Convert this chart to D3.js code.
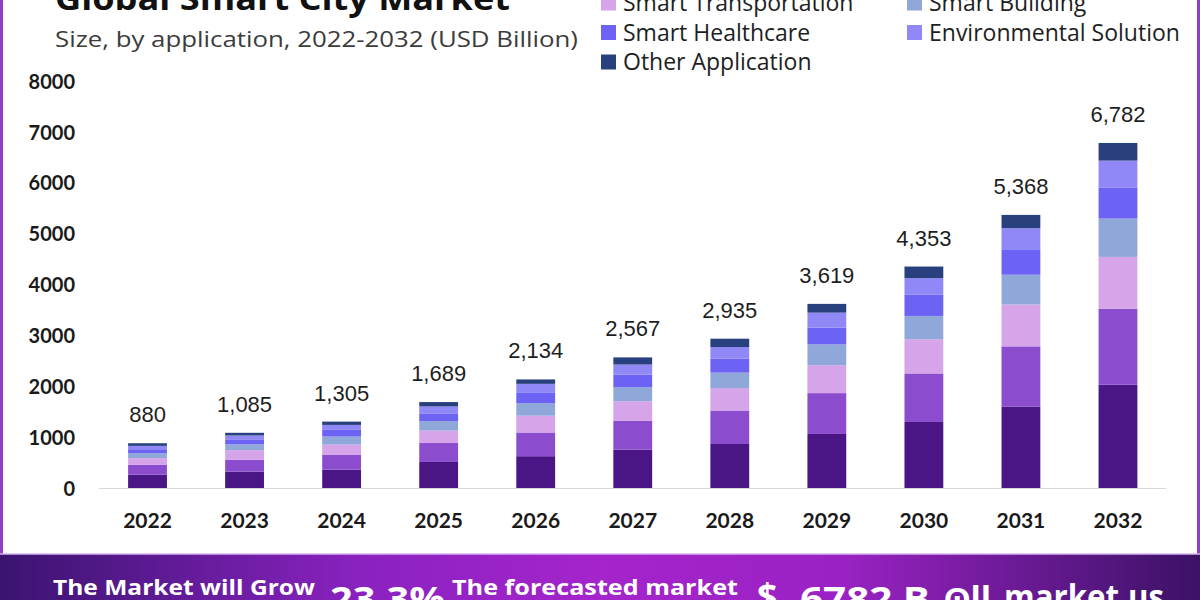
<!DOCTYPE html>
<html>
<head>
<meta charset="utf-8">
<script src="https://cdn.jsdelivr.net/npm/d3@7"></script>
<style>
  html, body { margin: 0; padding: 0; background: #ffffff; }
  svg { display: block; }
</style>
</head>
<body>
<svg id="chart" width="1200" height="600"></svg>
<script>
// ---------------- DATA ----------------
const years = ["2022","2023","2024","2025","2026","2027","2028","2029","2030","2031","2032"];
const totals = [880, 1085, 1305, 1689, 2134, 2567, 2935, 3619, 4353, 5368, 6782];
const seriesNames = ["Smart Governance","Smart Energy","Smart Transportation","Smart Building","Smart Healthcare","Environmental Solution","Other Application"];
const smartGovernance      = [262, 322, 362, 512, 625, 752, 865, 1062, 1298, 1602, 2030];
const smartEnergy          = [197, 235, 295, 372, 466, 573, 658, 803, 954, 1182, 1495];
const smartTransportation  = [128, 187, 197, 245, 330, 381, 440, 548, 670, 822, 1017];
const smartBuilding        = [95, 115, 157, 186, 248, 277, 305, 410, 460, 586, 754];
const smartHealthcare      = [80, 97, 131, 152, 200, 246, 276, 328, 415, 486, 604];
const environmentalSolution= [66, 76, 98, 136, 178, 198, 226, 296, 327, 428, 535];
const otherApplication     = [52, 53, 65, 86, 87, 140, 165, 172, 229, 262, 347];
const seriesColors = ["#4a1585","#8b4ccd","#d6a4e8","#8fa8d9","#6c62f4","#9088f6","#28407e"];
const yTicks = [0,1000,2000,3000,4000,5000,6000,7000,8000];

const seriesValues = [smartGovernance, smartEnergy, smartTransportation, smartBuilding, smartHealthcare, environmentalSolution, otherApplication];

// table for stacking
const table = years.map((y, i) => {
  const row = { year: y };
  seriesNames.forEach((n, k) => row[n] = seriesValues[k][i]);
  return row;
});

// ---------------- LAYOUT ----------------
const svg = d3.select("#chart");
const W = 1200, H = 600;
const x0 = 99, x1 = 1166.5, yTop = 81, yBase = 488;

const defs = svg.append("defs");
const grad = defs.append("linearGradient").attr("id","bannerGrad").attr("x1","0%").attr("x2","100%");
grad.append("stop").attr("offset","0%").attr("stop-color","#3a1470");
grad.append("stop").attr("offset","30%").attr("stop-color","#8a22c0");
grad.append("stop").attr("offset","50%").attr("stop-color","#a524cb");
grad.append("stop").attr("offset","70%").attr("stop-color","#9a22c4");
grad.append("stop").attr("offset","100%").attr("stop-color","#3b1266");

// white panel with purple frame
svg.append("rect").attr("x",0).attr("y",0).attr("width",W).attr("height",H).attr("fill","#ffffff");
svg.append("rect").attr("x",1.5).attr("y",-20).attr("width",W-3).attr("height",573+20)
  .attr("rx",6).attr("fill","#ffffff").attr("stroke","#8e3fc6").attr("stroke-width",3);

// banner
svg.append("rect").attr("x",0).attr("y",554).attr("width",W).attr("height",46).attr("fill","url(#bannerGrad)");
svg.append("line").attr("x1",0).attr("x2",W).attr("y1",554).attr("y2",554).attr("stroke","#d7b3ec").attr("stroke-width",1.5);

// scales
const x = d3.scaleBand().domain(years).range([x0, x1]).paddingInner(0.6).paddingOuter(0.3);
const y = d3.scaleLinear().domain([0, 8000]).range([yBase, yTop]);

// baseline
svg.append("line").attr("x1",x0).attr("x2",x1).attr("y1",yBase+0.5).attr("y2",yBase+0.5)
  .attr("stroke","#d9d9d9").attr("stroke-width",1.2);

// y axis
const yAxis = d3.axisLeft(y).tickValues(yTicks).tickSize(0).tickPadding(0).tickFormat(d3.format("d"));
const gy = svg.append("g").attr("transform","translate(75,0)").call(yAxis);
gy.select(".domain").remove();
gy.selectAll("text").attr("font-family","Lato, 'Open Sans', sans-serif").attr("font-weight","700")
  .attr("font-size",20).attr("fill","#1a1a1a").attr("dy","0.36em");

// x axis
const xAxis = d3.axisBottom(x).tickSize(0).tickPadding(0);
const gx = svg.append("g").attr("transform",`translate(0,${yBase})`).call(xAxis);
gx.select(".domain").remove();
gx.selectAll("text").attr("font-family","Lato, 'Open Sans', sans-serif").attr("font-weight","700")
  .attr("font-size",21).attr("fill","#1a1a1a").attr("dy",0).attr("y",40);

// stacked bars
const stack = d3.stack().keys(seriesNames);
const layers = stack(table);
svg.append("g").selectAll("g").data(layers).join("g")
  .attr("fill", (d, i) => seriesColors[i])
  .selectAll("rect").data(d => d).join("rect")
  .attr("x", d => x(d.data.year))
  .attr("width", x.bandwidth())
  .attr("y", d => y(d[1]))
  .attr("height", d => y(d[0]) - y(d[1]));

// totals labels
svg.append("g").selectAll("text").data(years).join("text")
  .attr("x", d => x(d) + x.bandwidth()/2)
  .attr("y", (d, i) => y(totals[i]) - 21)
  .attr("text-anchor","middle")
  .attr("font-family","'Liberation Sans', Arial, sans-serif")
  .attr("font-size",22).attr("fill","#1e1e1e")
  .text((d, i) => d3.format(",")(totals[i]));

// title & subtitle
svg.append("text").attr("x",55).attr("y",10)
  .attr("font-family","'Open Sans', sans-serif").attr("font-weight","700").attr("font-size",32)
  .attr("fill","#111").attr("textLength",455).attr("lengthAdjust","spacingAndGlyphs")
  .text("Global Smart City Market");
svg.append("text").attr("x",55).attr("y",47)
  .attr("font-family","'Open Sans', sans-serif").attr("font-weight","400").attr("font-size",22)
  .attr("fill","#3c3c3c").attr("textLength",523).attr("lengthAdjust","spacingAndGlyphs")
  .text("Size, by application, 2022-2032 (USD Billion)");

// legend (row-major, 2 columns)
const legendCols = [601, 907];
const legendRows = [-27, 3, 32.5, 62];
const lg = svg.append("g").selectAll("g").data(seriesNames).join("g")
  .attr("transform", (d, i) => `translate(${legendCols[i % 2]},${legendRows[Math.floor(i / 2)]})`);
lg.append("rect").attr("x",0).attr("y",-7.5).attr("width",15).attr("height",15)
  .attr("fill", (d, i) => seriesColors[i]);
lg.append("text").attr("x",22).attr("y",0).attr("dy","0.35em")
  .attr("font-family","'Open Sans', sans-serif").attr("font-size",23).attr("fill","#1e1e1e")
  .text(d => d);

// banner texts
const bf = "'Open Sans', sans-serif";
const bt = svg.append("g").attr("fill","#ffffff").attr("font-family",bf).attr("font-weight","700");
bt.append("text").attr("x",53).attr("y",595).attr("font-size",22).attr("textLength",262).attr("lengthAdjust","spacingAndGlyphs").text("The Market will Grow");
bt.append("text").attr("x",330).attr("y",611).attr("font-size",34).attr("textLength",115).attr("lengthAdjust","spacingAndGlyphs").text("23.3%");
bt.append("text").attr("x",452).attr("y",595).attr("font-size",22).attr("textLength",286).attr("lengthAdjust","spacingAndGlyphs").text("The forecasted market");
bt.append("text").attr("x",757).attr("y",609).attr("font-size",36).text("$");
bt.append("text").attr("x",800).attr("y",611).attr("font-size",34).attr("textLength",130).attr("lengthAdjust","spacingAndGlyphs").text("6782 B");
bt.append("text").attr("x",944).attr("y",611).attr("font-size",34).text("ʘll");
bt.append("text").attr("x",1004).attr("y",609).attr("font-size",34).attr("textLength",160).attr("lengthAdjust","spacingAndGlyphs").text("market.us");
</script>
</body>
</html>
